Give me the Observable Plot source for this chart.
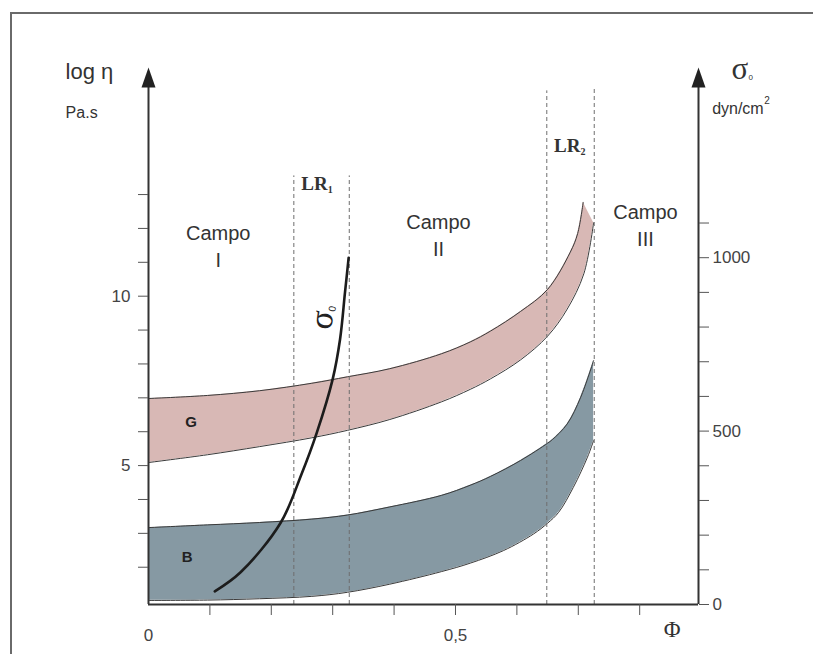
<!DOCTYPE html>
<html>
<head>
<meta charset="utf-8">
<script src="https://cdn.jsdelivr.net/npm/d3@7"></script>
<script src="https://cdn.jsdelivr.net/npm/@observablehq/plot@0.6"></script>
<style>
  html, body { margin: 0; padding: 0; background: #fff; }
  #wrap { position: relative; width: 813px; height: 654px; overflow: hidden; }
  #border { position: absolute; left: 10px; top: 12px; width: 900px; height: 800px;
            border-top: 2px solid #6a6a6a; border-left: 2px solid #6a6a6a; pointer-events: none; }
  #chart { position: absolute; left: 0; top: 0; }
</style>
</head>
<body>
<div id="wrap"><div id="chart"></div><div id="border"></div></div>
<script>
// ---- axes / ticks ----
const phiTicks = [0.1, 0.2, 0.3, 0.4, 0.5, 0.6, 0.7, 0.8];
const phiLabels = [0, 0.5];
const phiLabelText = ["0", "0,5"];
const etaTicks = [2, 3, 4, 5, 6, 7, 8, 9, 10, 11, 12, 13];
const etaLabels = [5, 10];
const sigmaTicks = [0, 100, 200, 300, 400, 500, 600, 700, 800, 900, 1000, 1100];
const sigmaLabels = [0, 500, 1000];

// ---- band G (log eta, Pa.s) ----
const gTopPhi = [0, 0.096, 0.181, 0.266, 0.324, 0.393, 0.477, 0.524, 0.557, 0.606, 0.650, 0.687, 0.699, 0.708];
const gTopEta = [6.98, 7.07, 7.21, 7.43, 7.62, 7.86, 8.30, 8.65, 8.97, 9.55, 10.20, 11.30, 11.85, 12.77];
const gBotPhi = [0, 0.096, 0.181, 0.266, 0.324, 0.393, 0.477, 0.524, 0.557, 0.606, 0.650, 0.682, 0.709, 0.725];
const gBotEta = [5.09, 5.32, 5.56, 5.82, 6.04, 6.36, 6.88, 7.25, 7.56, 8.12, 8.82, 9.62, 10.66, 12.17];

// ---- band B ----
const bTopPhi = [0, 0.096, 0.181, 0.266, 0.324, 0.393, 0.477, 0.524, 0.557, 0.606, 0.650, 0.658, 0.682, 0.704, 0.725];
const bTopEta = [3.17, 3.25, 3.32, 3.42, 3.54, 3.78, 4.12, 4.42, 4.68, 5.15, 5.66, 5.77, 6.23, 7.02, 8.10];
const bBotPhi = [0, 0.096, 0.181, 0.266, 0.324, 0.393, 0.477, 0.524, 0.578, 0.627, 0.650, 0.668, 0.692, 0.715, 0.725];
const bBotEta = [1.02, 1.03, 1.07, 1.14, 1.26, 1.50, 1.87, 2.12, 2.49, 2.98, 3.30, 3.62, 4.36, 5.25, 5.74];

// ---- sigma0 curve (dyn/cm2, right axis) ----
const sigPhi = [0.108, 0.150, 0.215, 0.249, 0.274, 0.300, 0.312, 0.320, 0.326];
const sigVal = [38, 93, 235, 375, 495, 650, 765, 899, 1000];

// ---- LR boundaries ----
const lrPhi = [0.2367, 0.327, 0.6487, 0.726];
const lrTop = [13.55, 13.55, 16.06, 16.16];

// ---- text annotations ----
const campoText = ["Campo\nI", "Campo\nII", "Campo\nIII"];
const campoPhi = [0.1136, 0.4723, 0.8094];
const campoEta = [10.87, 11.19, 11.49];
const lrText = ["LR", "LR"];
const lrSub = ["1", "2"];
const lrLabPhi = [0.292, 0.7035];
const lrLabEta = [13.14, 14.26];
const bandText = ["G", "B"];
const bandPhi = [0.0695, 0.063];
const bandEta = [6.28, 2.30];

// scale mapping between the two vertical axes
const ETA_MIN = 0.9, ETA_MAX = 16.75, PHI_MAX = 0.8958;
const K = 0.010236;
const toEta = s => ETA_MIN + s * K;
const toSigma = v => Math.round((v - ETA_MIN) / K);

const arrowHead = {
  draw(ctx) { ctx.moveTo(0, 0); ctx.lineTo(7, 20); ctx.lineTo(-7, 20); ctx.closePath(); }
};

const idx = n => d3.range(n);
const sans = "Liberation Sans, Arial, sans-serif";
const serif = "Liberation Serif, Times New Roman, serif";
const ink = "#333";
const smooth = "catmull-rom";

const chart = Plot.plot({
  width: 813, height: 654,
  marginLeft: 148, marginRight: 115, marginTop: 67, marginBottom: 50,
  x: {domain: [0, PHI_MAX]},
  y: {domain: [ETA_MIN, ETA_MAX]},
  style: {fontFamily: sans, background: "transparent", color: ink},
  marks: [
    // bands
    Plot.area(idx(gTopPhi.length), {x1: i => gTopPhi[i], y1: i => gTopEta[i], x2: i => gBotPhi[i], y2: i => gBotEta[i], curve: smooth, fill: "#d8b8b5"}),
    Plot.area(idx(bTopPhi.length), {x1: i => bTopPhi[i], y1: i => bTopEta[i], x2: i => bBotPhi[i], y2: i => bBotEta[i], curve: smooth, fill: "#8699a3"}),
    Plot.line(idx(gTopPhi.length), {x: i => gTopPhi[i], y: i => gTopEta[i], curve: smooth, stroke: "#3a3a3a", strokeWidth: 1}),
    Plot.line(idx(gBotPhi.length), {x: i => gBotPhi[i], y: i => gBotEta[i], curve: smooth, stroke: "#3a3a3a", strokeWidth: 1}),
    Plot.line(idx(bTopPhi.length), {x: i => bTopPhi[i], y: i => bTopEta[i], curve: smooth, stroke: "#3a3a3a", strokeWidth: 1}),
    Plot.line(idx(bBotPhi.length), {x: i => bBotPhi[i], y: i => bBotEta[i], curve: smooth, stroke: "#3a3a3a", strokeWidth: 1}),
    // LR dashed boundaries
    Plot.ruleX(idx(lrPhi.length), {x: i => lrPhi[i], y1: ETA_MIN, y2: i => lrTop[i], stroke: "#6e6e6e", strokeWidth: 1, strokeDasharray: "4,3"}),
    // sigma0 curve
    Plot.line(idx(sigPhi.length), {x: i => sigPhi[i], y: i => toEta(sigVal[i]), curve: smooth, stroke: "#1c1c1c", strokeWidth: 2.6}),
    // axis lines + arrows
    Plot.ruleX([0, PHI_MAX], {y1: ETA_MIN, y2: 16.2, stroke: ink, strokeWidth: 2}),
    Plot.ruleY([ETA_MIN], {x1: 0, x2: PHI_MAX, stroke: ink, strokeWidth: 2}),
    Plot.dot([0, PHI_MAX], {x: d => d, y: ETA_MAX, symbol: arrowHead, fill: "#222", stroke: "none"}),
    // axes
    Plot.axisY(etaTicks, {anchor: "left", tickSize: 10, tickPadding: 8, fontSize: 17, color: "#444", stroke: "#555",
      tickFormat: d => etaLabels.includes(d) ? String(d) : "", label: null}),
    Plot.axisY(sigmaTicks.map(toEta), {anchor: "right", tickSize: 10, tickPadding: 4, fontSize: 17, color: "#444", stroke: "#555",
      tickFormat: v => sigmaLabels.includes(toSigma(v)) ? String(toSigma(v)) : "", label: null}),
    Plot.axisX(phiTicks, {anchor: "bottom", tickSize: 11, tickFormat: () => "", stroke: "#555", label: null}),
    Plot.axisX(phiLabels, {anchor: "bottom", tickSize: 0, tickPadding: 24, fontSize: 17, color: "#444",
      tickFormat: d => phiLabelText[phiLabels.indexOf(d)], label: null}),
    // axis titles
    Plot.text(["log η"], {x: -0.135, y: 16.42, textAnchor: "start", lineAnchor: "bottom", fontSize: 22, fill: ink, fontFamily: sans}),
    Plot.text(["Pa.s"], {x: -0.135, y: 15.27, textAnchor: "start", lineAnchor: "bottom", fontSize: 16, fill: ink, fontFamily: sans}),
    Plot.text(["σ"], {x: 0.9495, y: 16.42, textAnchor: "start", lineAnchor: "bottom", fontSize: 31, fill: ink, fontFamily: serif}),
    Plot.text(["0"], {x: 0.9495, y: 16.42, dx: 17, dy: 1, textAnchor: "start", lineAnchor: "bottom", fontSize: 8, fill: ink, fontFamily: sans}),
    Plot.text(["dyn/cm"], {x: 0.918, y: 15.38, textAnchor: "start", lineAnchor: "bottom", fontSize: 16, fill: ink, fontFamily: sans}),
    Plot.text(["2"], {x: 0.918, y: 15.38, dx: 52, dy: -10, textAnchor: "start", lineAnchor: "bottom", fontSize: 10, fill: ink, fontFamily: sans}),
    Plot.text(["Φ"], {x: 0.853, y: -0.065, textAnchor: "middle", lineAnchor: "bottom", fontSize: 23, fill: ink, fontFamily: serif}),
    // region labels
    Plot.text(idx(campoText.length), {x: i => campoPhi[i], y: i => campoEta[i], text: i => campoText[i], textAnchor: "middle", lineAnchor: "bottom", lineHeight: 1.35, fontSize: 20, fill: ink, fontFamily: sans}),
    Plot.text(idx(lrText.length), {x: i => lrLabPhi[i], y: i => lrLabEta[i], text: i => lrText[i], textAnchor: "end", lineAnchor: "bottom", fontSize: 19, fontWeight: "bold", fill: ink, fontFamily: serif}),
    Plot.text(idx(lrSub.length), {x: i => lrLabPhi[i], y: i => lrLabEta[i], text: i => lrSub[i], dx: 0, dy: 3, textAnchor: "start", lineAnchor: "bottom", fontSize: 10, fontWeight: "bold", fill: ink, fontFamily: serif}),
    Plot.text(idx(bandText.length), {x: i => bandPhi[i], y: i => bandEta[i], text: i => bandText[i], textAnchor: "middle", lineAnchor: "middle", fontSize: 15, fontWeight: "bold", fill: "#222", fontFamily: sans}),
    // sigma0 curve label (rotated)
    Plot.text(["σ"], {x: 0.2818, y: 9.3, rotate: -82, textAnchor: "middle", lineAnchor: "middle", fontSize: 34, fill: "#222", fontFamily: serif}),
    Plot.text(["0"], {x: 0.2818, y: 9.3, dx: 11, dy: -11, rotate: -82, textAnchor: "middle", lineAnchor: "middle", fontSize: 10, fill: "#222", fontFamily: sans})
  ]
});
document.getElementById("chart").appendChild(chart);
</script>
</body>
</html>
